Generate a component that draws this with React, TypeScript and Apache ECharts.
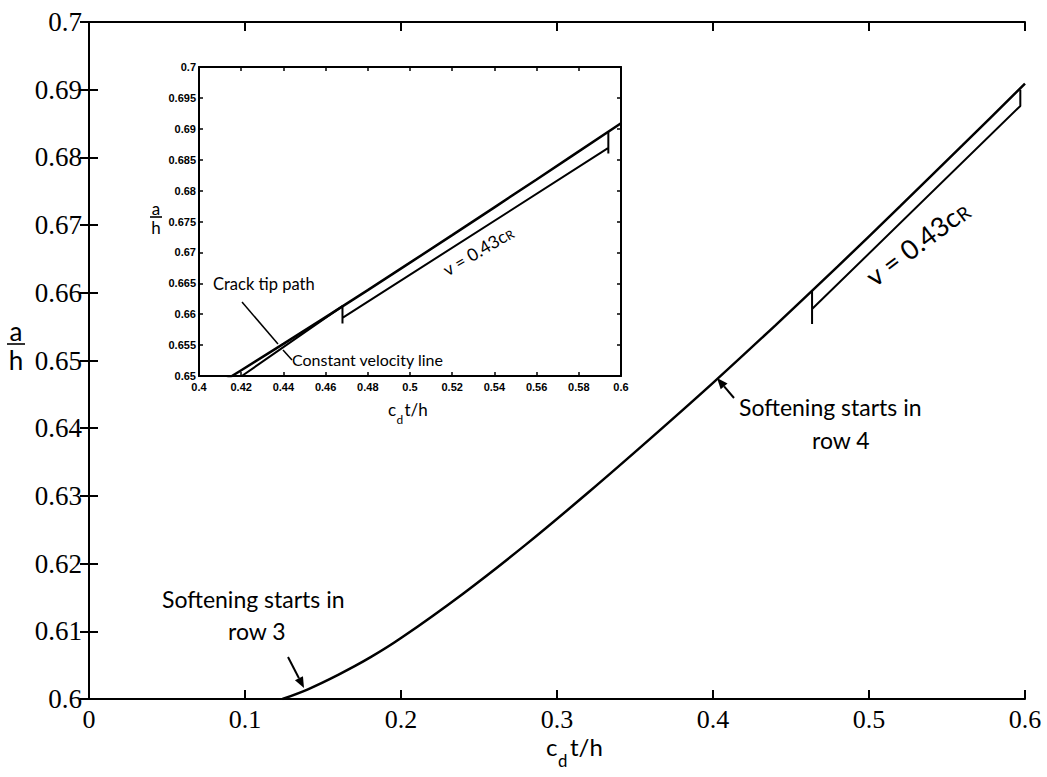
import React, { useEffect, useRef } from "react";
import * as echarts from "echarts";

// Crack tip path (a/h vs c_d t/h)
const crackX = [0.124, 0.14, 0.16, 0.18, 0.2, 0.24, 0.28, 0.32, 0.36, 0.4, 0.44, 0.48, 0.52, 0.56, 0.6];
const crackY = [0.6, 0.6014, 0.6036, 0.6061, 0.609, 0.6156, 0.6228, 0.6305, 0.6385, 0.6467, 0.6552, 0.6639, 0.6728, 0.6818, 0.6909];

// Constant velocity line (v = 0.43 cR) as drawn in the main plot
const mainVelX = [0.4635, 0.4635, 0.4635, 0.597, 0.597];
const mainVelY = [0.6604, 0.6554, 0.6576, 0.6876, 0.69];

// Constant velocity line as drawn in the inset
const insetVelX = [0.4203, 0.468, 0.468, 0.468, 0.594, 0.594, 0.594];
const insetVelY = [0.65, 0.6613, 0.6585, 0.6594, 0.6869, 0.686, 0.6896];

const toPairs = (xs: number[], ys: number[]) => xs.map((x, i) => [x, ys[i]]);

const BLACK = "#000";
const SANS = "Lato";
const Z = 100;

function arrow(x1: number, y1: number, x2: number, y2: number, head = 11, w = 4.5) {
  const dx = x2 - x1;
  const dy = y2 - y1;
  const L = Math.hypot(dx, dy);
  const ux = dx / L;
  const uy = dy / L;
  const bx = x2 - ux * head;
  const by = y2 - uy * head;
  const px = -uy;
  const py = ux;
  return [
    { type: "line", z: Z, shape: { x1, y1, x2: bx, y2: by }, style: { stroke: BLACK, lineWidth: 2 } },
    {
      type: "polygon",
      z: Z,
      shape: { points: [[x2, y2], [bx + px * w, by + py * w], [bx - px * w, by - py * w]] },
      style: { fill: BLACK },
    },
  ];
}

function txt(x: number, y: number, text: string, size: number, align = "left") {
  return {
    type: "text",
    z: Z,
    x,
    y,
    style: { text, fontFamily: SANS, fontSize: size, fill: BLACK, align, verticalAlign: "middle" },
  };
}

function fraction(cx: number, cy: number, size: number, barW: number) {
  return [
    txt(cx, cy - size * 0.5, "a", size, "center"),
    { type: "rect", z: Z, shape: { x: cx - barW / 2, y: cy - 0.8, width: barW, height: 1.6 }, style: { fill: BLACK } },
    txt(cx, cy + size * 0.62, "h", size, "center"),
  ];
}

// c_d t/h built from pieces, baseline at `base`
function axisTitle(left: number, base: number, size: number, cW: number, dW: number) {
  const sub = size * 0.7;
  return [
    txt(left, base - size * 0.32, "c", size),
    txt(left + cW, base + size * 0.5 - sub * 0.32, "d", sub),
    txt(left + cW + dW, base - size * 0.32, "t/h", size),
  ];
}

function velLabel(cx: number, cy: number, size: number, deg: number) {
  return {
    type: "text",
    z: Z,
    x: cx,
    y: cy,
    rotation: (deg * Math.PI) / 180,
    style: {
      text: "{n|v = 0.43c}{s|R}",
      align: "center",
      verticalAlign: "middle",
      rich: {
        n: { fontFamily: SANS, fontSize: size, fill: BLACK, color: BLACK },
        s: { fontFamily: SANS, fontSize: size * 0.7, fill: BLACK, color: BLACK, padding: [size * 0.3, 0, 0, 0] },
      },
    },
  };
}

const axisLine = { show: true, lineStyle: { color: BLACK, width: 2 } };

export default function App() {
  const ref = useRef<HTMLDivElement>(null);
  useEffect(() => {
    if (!ref.current) return;
    const chart = echarts.init(ref.current, undefined, { renderer: "svg" });
    const mainTick = { show: true, inside: true, length: 9, lineStyle: { color: BLACK, width: 2 } };
    const insetTick = { show: true, inside: true, length: 4, lineStyle: { color: BLACK, width: 1.5 } };
    const insetLabel = { fontFamily: "Liberation Sans", fontSize: 11, fontWeight: "bold", color: BLACK };
    chart.setOption({
      animation: false,
      backgroundColor: "#fff",
      grid: [
        { left: 89, right: 22, top: 22, bottom: 78 },
        { left: 199, right: 426, top: 67, bottom: 401, show: true, backgroundColor: "#fff", borderWidth: 0 },
      ],
      xAxis: [
        { type: "value", gridIndex: 0, min: 0, max: 0.6, interval: 0.1, axisLine, axisTick: mainTick, axisLabel: { fontFamily: "Liberation Serif", fontSize: 26, color: BLACK, margin: 7 }, splitLine: { show: false } },
        { type: "value", gridIndex: 0, position: "top", min: 0, max: 0.6, interval: 0.1, axisLine, axisTick: mainTick, axisLabel: { show: false }, splitLine: { show: false } },
        { type: "value", gridIndex: 1, min: 0.4, max: 0.6, interval: 0.02, axisLine, axisTick: insetTick, axisLabel: { ...insetLabel, margin: 5 }, splitLine: { show: false } },
        { type: "value", gridIndex: 1, position: "top", min: 0.4, max: 0.6, interval: 0.02, axisLine, axisTick: insetTick, axisLabel: { show: false }, splitLine: { show: false } },
      ],
      yAxis: [
        { type: "value", gridIndex: 0, min: 0.6, max: 0.7, interval: 0.01, axisLine, axisTick: mainTick, axisLabel: { fontFamily: "Liberation Serif", fontSize: 27, color: BLACK, margin: 7 }, splitLine: { show: false } },
        { type: "value", gridIndex: 0, position: "right", min: 0.6, max: 0.7, interval: 0.01, axisLine, axisTick: mainTick, axisLabel: { show: false }, splitLine: { show: false } },
        { type: "value", gridIndex: 1, min: 0.65, max: 0.7, interval: 0.005, axisLine, axisTick: insetTick, axisLabel: { ...insetLabel, margin: 3 }, splitLine: { show: false } },
        { type: "value", gridIndex: 1, position: "right", min: 0.65, max: 0.7, interval: 0.005, axisLine, axisTick: insetTick, axisLabel: { show: false }, splitLine: { show: false } },
      ],
      series: [
        { name: "Crack tip path", type: "line", xAxisIndex: 0, yAxisIndex: 0, data: toPairs(crackX, crackY), showSymbol: false, smooth: 0.3, lineStyle: { color: BLACK, width: 2.5 } },
        { name: "Constant velocity line", type: "line", xAxisIndex: 0, yAxisIndex: 0, data: toPairs(mainVelX, mainVelY), showSymbol: false, lineStyle: { color: BLACK, width: 2 } },
        { name: "Crack tip path (inset)", type: "line", xAxisIndex: 2, yAxisIndex: 2, data: toPairs(crackX, crackY), showSymbol: false, smooth: 0.3, clip: true, lineStyle: { color: BLACK, width: 2.5 } },
        { name: "Constant velocity line (inset)", type: "line", xAxisIndex: 2, yAxisIndex: 2, data: toPairs(insetVelX, insetVelY), showSymbol: false, clip: true, lineStyle: { color: BLACK, width: 2 } },
      ],
      graphic: [
        ...fraction(16, 344, 26, 18),
        ...fraction(156, 217, 17, 12),
        ...axisTitle(546, 754, 24, 12, 12),
        ...axisTitle(388, 415, 17, 8.5, 8),
        velLabel(917, 243, 27, 37),
        velLabel(478, 251, 17.5, 31),
        txt(213, 284, "Crack tip path", 16.5),
        txt(292, 359, "Constant velocity line", 16),
        { type: "line", z: Z, shape: { x1: 242, y1: 302, x2: 278, y2: 344 }, style: { stroke: BLACK, lineWidth: 1.5 } },
        { type: "line", z: Z, shape: { x1: 283, y1: 350, x2: 292, y2: 360 }, style: { stroke: BLACK, lineWidth: 1.5 } },
        txt(739, 407, "Softening starts in", 23),
        txt(812, 440, "row 4", 23),
        ...arrow(734, 398, 717, 378),
        txt(162, 599, "Softening starts in", 23),
        txt(228, 631, "row 3", 23),
        ...arrow(288, 657, 304, 688),
      ],
    });
    return () => chart.dispose();
  }, []);
  return <div ref={ref} style={{ position: "absolute", left: 0, top: 0, width: 1047, height: 777 }} />;
}
